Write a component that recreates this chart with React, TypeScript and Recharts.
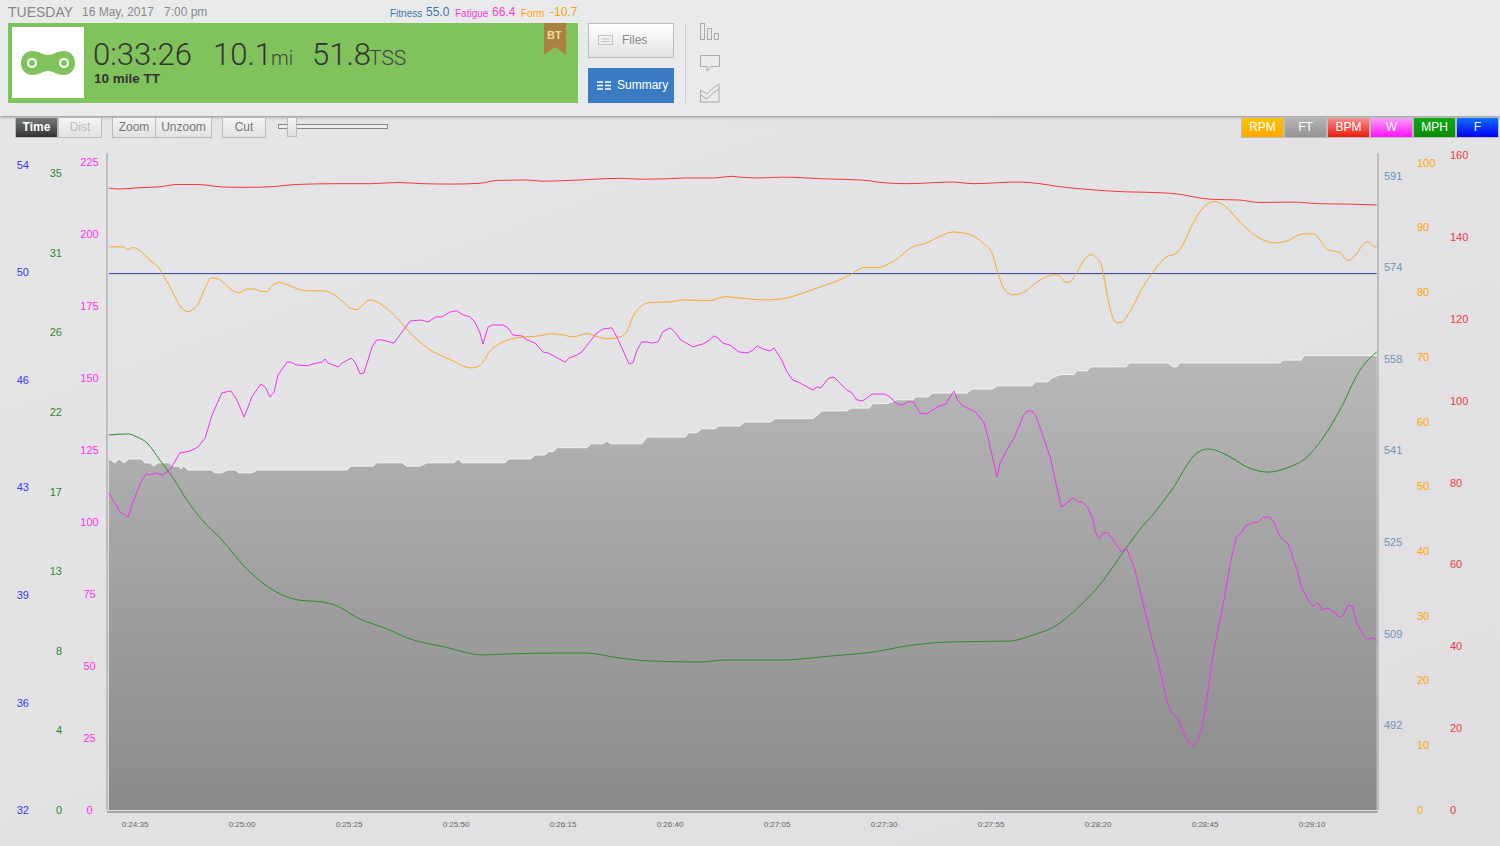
import React from "react";
import { Area, ComposedChart, Line, XAxis, YAxis } from "recharts";

// seconds into the ride
const xDomain = [1468.46, 1765.4];
const timeTicks = [1475, 1500, 1525, 1550, 1575, 1600, 1625, 1650, 1675, 1700, 1725, 1750];

const wattTimes = [
  1468.9, 1471.5, 1473.4, 1474.5, 1475.7, 1476.4, 1477.6, 1478.5, 1479.7, 1481.5, 1483.2, 1485.5, 1487.8, 1489.7, 1491.4, 1493, 1495.3, 1497.4, 1498.8, 1500.5,
  1502.3, 1504.4, 1505.6, 1506.5, 1507.5, 1508.4, 1510.5, 1511.4, 1512.8, 1515.4, 1516.6, 1518.7, 1519.4, 1520.1, 1522.5, 1523.4, 1525.5, 1526.4, 1527.6, 1528.5,
  1530.4, 1531.5, 1532.7, 1535.5, 1539.3, 1542, 1543.4, 1545.3, 1546.7, 1548.6, 1550.2, 1551.6, 1553.3, 1554.4, 1555.6, 1556.3, 1557.5, 1558.6, 1561, 1562.1,
  1563.3, 1565.4, 1566.6, 1568.5, 1570.3, 1571.5, 1575.5, 1576.4, 1578.3, 1579.4, 1580.6, 1582.9, 1584.3, 1586.4, 1587.6, 1590.4, 1591.3, 1592.3, 1593.4, 1594.6,
  1595.8, 1597.2, 1598.3, 1600, 1601.1, 1602.5, 1605.3, 1607.7, 1609.3, 1610.2, 1611.2, 1612.3, 1614, 1616.1, 1618.2, 1619.4, 1620.3, 1621.7, 1623.3, 1624.3,
  1626.1, 1627.3, 1628.7, 1630.3, 1633.4, 1634.3, 1635.2, 1637.1, 1638.3, 1641.3, 1642.5, 1643.6, 1645, 1647.2, 1650.2, 1651.4, 1653, 1654.4, 1655.6, 1656.8,
  1658.4, 1660, 1662.4, 1664.5, 1666.3, 1667.3, 1668.4, 1671.3, 1673.3, 1674.3, 1676.4, 1677.1, 1678.7, 1680.4, 1682.5, 1683.4, 1684.6, 1685.5, 1688.8, 1691.4,
  1694.2, 1695.4, 1696.3, 1697.5, 1698.7, 1699.4, 1700.3, 1701.2, 1702.4, 1705.4, 1706.6, 1708.5, 1709.6, 1712.2, 1714.1, 1716.2, 1717.3, 1718.5, 1720.4, 1721.5,
  1722.2, 1723.2, 1724.3, 1725.5, 1726.9, 1729.3, 1730.9, 1732.3, 1733.5, 1734.4, 1736, 1737.4, 1738.6, 1740.2, 1741.2, 1742.5, 1744.4, 1746.5, 1747.5, 1749.1,
  1750.2, 1751.4, 1752.3, 1753.7, 1755.4, 1756.3, 1757.2, 1758.4, 1759.3, 1760.7, 1762.4, 1763.1, 1764.2, 1765.1,
];
const wattValues = [
  110.1, 103.5, 101.7, 106.9, 111.1, 113.9, 116.7, 116.3, 117, 116.3, 118.1, 124, 124.6, 126, 129.2, 137.1, 144.8, 145.5, 142.4, 136.4,
  143.4, 147.9, 146.5, 143.4, 145.1, 151, 155.5, 155.5, 154.5, 154.2, 154.9, 155.5, 156.6, 155.2, 153.8, 155.2, 156.9, 155.5, 151.4, 151.7,
  160.8, 163.2, 163.2, 162.1, 169.8, 170.1, 169.4, 171.2, 171.2, 172.9, 173.3, 171.9, 171.2, 169.4, 165.6, 161.8, 167.7, 168.4, 168.4, 167.4,
  164.9, 164.6, 163.2, 162.1, 159, 158.7, 155.5, 156.9, 158, 159, 161.4, 165.6, 167, 167.4, 164.2, 154.9, 155.2, 159.7, 162.5, 162.5,
  162.1, 162.5, 166, 167.4, 166, 163.2, 160.8, 161.8, 163.2, 164.6, 163.9, 162.1, 161.4, 159, 158.7, 159.7, 161.1, 160.1, 159.4, 160.4,
  156.2, 152.1, 149.3, 148.3, 145.8, 146.9, 146.5, 150, 150.3, 145.8, 144.8, 142.4, 142, 144.4, 144.4, 143.4, 141, 140.6, 141.7, 141.7,
  137.8, 137.5, 139.9, 141, 145.5, 142, 140.3, 138.2, 134.7, 129.2, 115.6, 120.5, 125, 129.2, 136.8, 138.5, 138.5, 136.8, 122.6, 105.2,
  108.3, 106.9, 106.9, 105.2, 101.4, 96.5, 94.1, 96.2, 96.2, 89.6, 91, 84, 77.4, 61.5, 51, 37.2, 33.7, 31.9, 25.3, 22.9,
  22.2, 23.6, 28.8, 39.2, 54.5, 71.9, 85.8, 94.8, 96.2, 98.6, 99.6, 100, 101.7, 101.7, 99.6, 94.8, 92.4, 83.3, 77.4, 72.9,
  70.8, 71.9, 69.4, 70.1, 68.4, 67, 67.4, 71.2, 70.8, 64.2, 59.7, 59.4, 59.7, 58.7,
];

const rpmTimes = [
  1468.9, 1472.2, 1473.4, 1474.5, 1476.2, 1478.5, 1480.4, 1481.8, 1483.9, 1485.7, 1487.4, 1488.5, 1489.7, 1491.4, 1492.8, 1494.2, 1495.6, 1497.9, 1499.3, 1501.2,
  1502.6, 1504.7, 1505.8, 1507.2, 1508.9, 1510.7, 1513.5, 1515.4, 1519.4, 1521, 1523.6, 1525.7, 1526.9, 1528, 1529.9, 1531.5, 1533.4, 1536.4, 1539.7, 1541.6,
  1543.4, 1546.2, 1549.3, 1551.6, 1553.7, 1555.1, 1556.3, 1557.9, 1559.8, 1562.1, 1564.9, 1570.1, 1571.9, 1575, 1577.3, 1580.6, 1583.6, 1585.5, 1588.3, 1589.9,
  1591.3, 1593, 1595.3, 1600, 1603, 1609.3, 1612.8, 1616.3, 1622.2, 1627.3, 1629.9, 1635, 1638.1, 1641.3, 1645.5, 1648.3, 1652.5, 1656.7, 1659.5, 1663,
  1666.1, 1670, 1673.1, 1675.2, 1676.6, 1677.8, 1678.9, 1680.1, 1683.1, 1685.2, 1688, 1689.9, 1691.1, 1692.5, 1693.4, 1695, 1697.4, 1698.6, 1699.7, 1700.9,
  1701.6, 1703.2, 1704.4, 1705.3, 1707.4, 1710.5, 1713.3, 1716.1, 1718, 1719.8, 1722.2, 1724.5, 1727.3, 1729.2, 1733.8, 1737.8, 1741.3, 1744.1, 1747.9, 1750.6,
  1751.8, 1753.5, 1756.5, 1758.4, 1759.5, 1763, 1764.7, 1765.1,
];
const rpmValues = [
  87, 87, 86.6, 86.9, 86.4, 84.9, 83.9, 82.4, 79.9, 77.7, 77, 77.3, 78.1, 80.7, 82.2, 82.1, 81.5, 80.2, 79.9, 80.5,
  80.5, 80.1, 80.1, 81.1, 81.5, 81.1, 80.4, 80.2, 80.2, 79.8, 78.5, 77.4, 77.3, 77.9, 78.8, 78.5, 77.7, 75.9, 73.4, 72.3,
  71.3, 70.3, 69.4, 68.6, 68.3, 68.5, 69.2, 70.9, 71.9, 72.6, 73, 73.3, 73.6, 73.4, 73.1, 73.6, 73, 72.8, 73.1, 73.9,
  76.2, 77.7, 78.4, 78.5, 78.8, 78.7, 79.3, 79.1, 78.8, 79.1, 79.6, 80.8, 81.5, 82.4, 83.8, 83.8, 84.9, 87, 87.5, 88.6,
  89.3, 88.9, 87.6, 86.1, 83, 80.8, 79.9, 79.6, 80.2, 81.3, 82.4, 82.7, 82.5, 81.5, 81.6, 83, 85.5, 85.8, 85.3, 83.9,
  81.5, 76.5, 75.3, 75.3, 77, 80.8, 83.5, 85.5, 85.9, 87.3, 90.7, 93, 94, 93.5, 90.4, 88.3, 87.6, 87.9, 89, 89,
  88.1, 86.6, 86.1, 84.9, 85.3, 87.8, 87, 87,
];

const bpmTimes = [
  1468.9, 1471.5, 1475.7, 1480.4, 1484.8, 1489.7, 1495.3, 1500.7, 1507.7, 1512.4, 1522.4, 1530.4, 1536.4, 1542.3, 1549.3, 1555.6, 1559.6, 1566.6, 1570.3, 1576.6,
  1588.3, 1593, 1599.3, 1604, 1610, 1614.7, 1616.3, 1621, 1626.4, 1635.7, 1646, 1648.3, 1655.3, 1666.1, 1670.8, 1681, 1686.4, 1690.8, 1698.8, 1706.7,
  1711.4, 1718.4, 1726.1, 1733.1, 1737.8, 1745.5, 1751.8, 1758.8, 1765.1,
];
const bpmValues = [
  152, 151.8, 152.1, 152.3, 152.9, 152.9, 152.3, 152.2, 152.4, 152.9, 153.1, 153.1, 153.4, 153.1, 153, 153.2, 153.9, 154, 153.7, 153.9,
  154.4, 154.2, 154.3, 154.5, 154.5, 154.9, 154.7, 154.5, 154.7, 154.3, 153.9, 153.5, 153.1, 153.5, 153.1, 153.5, 153.1, 152.4, 151.6, 151.1,
  151, 150.6, 149.3, 149.1, 148.5, 148.6, 148.2, 148.1, 147.9,
];

const mphTimes = [
  1468.9, 1473.4, 1475.5, 1477.8, 1480.8, 1483.9, 1487.1, 1490.7, 1495.3, 1500.7, 1506.1, 1510, 1513.1, 1518.7, 1521.7, 1527.1, 1535, 1538.1, 1547.4, 1556.3,
  1561.4, 1574.3, 1580.1, 1588.3, 1595.3, 1607, 1612.8, 1625.7, 1637.4, 1649, 1653.7, 1665.4, 1679.4, 1684.1, 1691.1, 1693.4, 1701.1, 1705.1, 1709.3, 1713.3,
  1717.2, 1723.1, 1725.7, 1730.1, 1734.8, 1739.7, 1744.1, 1748.8, 1752.5, 1756.5, 1761.2, 1765.1,
];
const mphValues = [
  20.73, 20.79, 20.62, 20.29, 19.35, 18.35, 17.14, 16.03, 14.93, 13.43, 12.33, 11.83, 11.61, 11.5, 11.33, 10.61, 9.9, 9.56, 9.01, 8.57,
  8.62, 8.68, 8.68, 8.4, 8.24, 8.18, 8.29, 8.29, 8.51, 8.79, 9.01, 9.29, 9.34, 9.62, 10.34, 10.78, 12.66, 13.99, 15.37, 16.47,
  17.69, 19.74, 19.96, 19.62, 18.96, 18.68, 18.91, 19.51, 20.56, 22.11, 24.32, 25.32,
];

const ftTimes = [
  1468.9, 1470.3, 1471.3, 1472.4, 1473.6, 1476.4, 1477.3, 1478.5, 1479.4, 1480.4, 1482.9, 1483.9, 1485.3, 1485.7, 1486.4, 1487.4, 1492.8, 1493.7, 1495.3, 1496.5,
  1498.4, 1499.3, 1502.3, 1503.5, 1524.5, 1525.5, 1530.6, 1531.5, 1537.4, 1538.5, 1541.6, 1543.2, 1549.5, 1550.5, 1551.4, 1561.4, 1562.4, 1567.5, 1568.4, 1570.8,
  1571.5, 1572.7, 1573.6, 1580.6, 1581.5, 1584.3, 1585.3, 1586.2, 1593.4, 1594.6, 1603.5, 1604.4, 1606.3, 1607.4, 1610.5, 1611.4, 1616.3, 1617.5, 1623.6, 1624.5,
  1633.4, 1635.5, 1641.3, 1642.3, 1646.5, 1647.4, 1650.7, 1653, 1656.8, 1657.4, 1660.2, 1661.4, 1669.4, 1670.5, 1675.2, 1676.4, 1684.5, 1685.5, 1688.3, 1689.2,
  1691.1, 1694.4, 1695, 1697.4, 1698.3, 1706.6, 1707.2, 1716.3, 1717.5, 1718.4, 1719.1, 1742.5, 1743.2, 1747.5, 1748.1, 1765.1,
];
const ftValues = [
  539.7, 539, 539.7, 539, 539.7, 539.7, 539, 539, 538.4, 539, 539, 538.4, 538.4, 537.9, 538.4, 537.7, 537.7, 537.2, 537.2, 537.7,
  537.7, 537.2, 537.2, 537.7, 537.7, 538.4, 538.4, 539, 539, 538.4, 538.4, 539, 539, 539.7, 539, 539, 539.7, 539.7, 540.4, 540.4,
  541, 541, 541.7, 541.7, 542.4, 542.4, 542.9, 542.4, 542.4, 543.6, 543.6, 544.4, 544.4, 545.1, 545.1, 545.6, 545.6, 546.3, 546.3, 546.9,
  546.9, 548.3, 548.3, 548.8, 548.8, 549.6, 549.6, 550.3, 550.3, 550.8, 550.8, 551.5, 551.5, 552.2, 552.2, 552.8, 552.8, 553.5, 553.5, 554.2,
  554.8, 554.8, 555.5, 555.5, 556.2, 556.2, 556.9, 556.9, 556.2, 556.2, 556.9, 556.9, 557.4, 557.4, 558.2, 558.2,
];

const fTimes = [1468.9, 1765.1];
const fValues = [49.88, 49.88];

// axis ticks, and the rounded labels the app prints for them
const fTicks = [32, 35.58, 39.17, 42.75, 46.33, 49.92, 53.5];
const fLabels = ["32", "36", "39", "43", "46", "50", "54"];
const mphTicks = [0, 4.4, 8.8, 13.2, 17.6, 22, 26.4, 30.8, 35.2];
const mphLabels = ["0", "4", "8", "13", "17", "22", "26", "31", "35"];
const wattTicks = [0, 25, 50, 75, 100, 125, 150, 175, 200, 225];
const ftTicks = [492, 508.4, 524.8, 541.2, 557.6, 574, 590.4];
const ftLabels = ["492", "509", "525", "541", "558", "574", "591"];
const rpmTicks = [0, 10, 20, 30, 40, 50, 60, 70, 80, 90, 100];
const bpmTicks = [0, 20, 40, 60, 80, 100, 120, 140, 160];

const legendItems = [
  { label: "RPM", from: "#ffc400", to: "#ffa800" },
  { label: "FT", from: "#b5b5b5", to: "#949494" },
  { label: "BPM", from: "#f59090", to: "#ee1a0a" },
  { label: "W", from: "#f8a0f8", to: "#ff10ff" },
  { label: "MPH", from: "#10aa10", to: "#0a8a0a" },
  { label: "F", from: "#0a70ff", to: "#0000f0" },
];

const zip = (times: number[], values: number[]) => times.map((t, i) => ({ t, v: values[i] }));
const clock = (s: number) => {
  const m = Math.floor(s / 60);
  const r = s % 60;
  return `0:${m}:${r < 10 ? "0" : ""}${r}`;
};
const labelled = (ticks: number[], labels: string[]) => (v: number) => labels[ticks.indexOf(v)];

const box = (left: number, top: number, width: number, height: number): React.CSSProperties => ({
  position: "absolute",
  left,
  top,
  width,
  height,
  boxSizing: "border-box",
});

const txt = (left: number, top: number, size: number, color: string, extra: React.CSSProperties = {}): React.CSSProperties => ({
  position: "absolute",
  left,
  top,
  fontSize: size,
  lineHeight: `${size + 2}px`,
  color,
  whiteSpace: "nowrap",
  ...extra,
});

function ToolButton({ label, left, width, dark, faded }: { label: string; left: number; width: number; dark?: boolean; faded?: boolean }) {
  return (
    <div
      style={{
        ...box(left, 117, width, 21),
        border: "1px solid #bbb",
        background: dark ? "linear-gradient(#777,#333)" : "linear-gradient(#f4f4f4,#e2e2e2)",
        color: dark ? "#fff" : faded ? "#bbb" : "#777",
        fontSize: 12,
        lineHeight: "19px",
        textAlign: "center",
        fontWeight: dark ? 700 : 400,
      }}
    >
      {label}
    </div>
  );
}

function Header() {
  const big = { fontFamily: "Roboto", fontWeight: 300 };
  return (
    <>
      <div style={{ ...box(0, 0, 1500, 116), background: "#e9eaec", boxShadow: "0 1px 3px #888" }} />
      <div style={txt(8, 4, 14, "#888")}>TUESDAY</div>
      <div style={txt(82, 5, 12, "#888")}>16 May, 2017</div>
      <div style={txt(164, 5, 12, "#888")}>7:00 pm</div>
      <div style={txt(390, 8, 10, "#3a78a8")}>Fitness</div>
      <div style={txt(426, 5, 12, "#3a78a8")}>55.0</div>
      <div style={txt(455, 8, 10, "#f23fd0")}>Fatigue</div>
      <div style={txt(492, 5, 12, "#f23fd0")}>66.4</div>
      <div style={txt(521, 8, 10, "#ffa500")}>Form</div>
      <div style={txt(550, 5, 12, "#ffa500")}>-10.7</div>

      <div style={{ ...box(8, 23, 570, 80), background: "#80c25c" }} />
      <div style={{ ...box(12, 27, 72, 71), background: "#fff" }} />
      <svg style={{ position: "absolute", left: 20, top: 50 }} width="56" height="26">
        <path d="M12 1 C20 1 22 5 28 5 C34 5 36 1 44 1 C51 1 55 7 55 13 C55 19 51 25 44 25 C36 25 34 21 28 21 C22 21 20 25 12 25 C5 25 1 19 1 13 C1 7 5 1 12 1 Z" fill="#80c25c" />
        <circle cx="12" cy="13" r="5" fill="#fff" />
        <circle cx="12" cy="13" r="3" fill="#80c25c" />
        <circle cx="44" cy="13" r="5" fill="#fff" />
        <circle cx="44" cy="13" r="3" fill="#80c25c" />
      </svg>
      <div style={txt(93, 38, 31, "#333", big)}>0:33:26</div>
      <div style={txt(213, 38, 31, "#333", big)}>10.1</div>
      <div style={txt(271, 47, 20, "#444", big)}>mi</div>
      <div style={txt(312, 38, 31, "#333", big)}>51.8</div>
      <div style={txt(369, 47, 21, "#444", big)}>TSS</div>
      <div style={txt(94, 71, 13.5, "#333", { fontWeight: 700 })}>10 mile TT</div>

      <svg style={{ position: "absolute", left: 544, top: 23 }} width="22" height="33">
        <path d="M0 0 H22 V32 L11 24 L0 32 Z" fill="#a9803f" />
      </svg>
      <div style={txt(547, 29, 11, "#e8dc9c", { fontWeight: 700 })}>BT</div>

      <div style={{ ...box(588, 23, 86, 35), border: "1px solid #bbb", background: "linear-gradient(#fff,#e2e2e2)" }} />
      <svg style={{ position: "absolute", left: 598, top: 35 }} width="16" height="11">
        <rect x="0.5" y="0.5" width="14" height="9" fill="none" stroke="#c4c4c4" />
        <path d="M3 4 H12 M3 6.5 H12" stroke="#c4c4c4" />
      </svg>
      <div style={txt(622, 33, 12, "#888")}>Files</div>
      <div style={{ ...box(588, 68, 86, 35), background: "#3b7bc4" }} />
      <svg style={{ position: "absolute", left: 597, top: 81 }} width="16" height="9">
        <path d="M0 1 H6 M8 1 H14 M0 4.5 H6 M8 4.5 H14 M0 8 H6 M8 8 H14" stroke="#fff" strokeWidth="1.6" />
      </svg>
      <div style={txt(617, 78, 12, "#fff")}>Summary</div>
      <div style={{ ...box(685, 23, 1, 80), background: "#ccc" }} />
      <svg style={{ position: "absolute", left: 698, top: 22 }} width="24" height="84" fill="none" stroke="#aaa">
        <rect x="2.5" y="1.5" width="4" height="16" />
        <rect x="9.5" y="6.5" width="4" height="11" />
        <rect x="16.5" y="11.5" width="4" height="6" />
        <path d="M2.5 33.5 H21.5 V44.5 H13 L9 49 V44.5 H2.5 Z" />
        <path d="M2.5 68 L9 72 L15 66 L21 62 V80 H2.5 Z" />
        <path d="M2.5 73 L9 77 L15 71 L21 67" />
      </svg>

      <ToolButton label="Time" left={15} width={43} dark />
      <ToolButton label="Dist" left={58} width={44} faded />
      <ToolButton label="Zoom" left={112} width={44} />
      <ToolButton label="Unzoom" left={155} width={57} />
      <ToolButton label="Cut" left={222} width={44} />
      <div style={{ ...box(278, 124, 110, 5), border: "1px solid #888", background: "#eee" }} />
      <div style={{ ...box(287, 117, 10, 20), border: "1px solid #bbb", background: "linear-gradient(#f4f4f4,#ddd)" }} />

      {legendItems.map((item, i) => (
        <div
          key={item.label}
          style={{
            ...box(1241 + i * 43, 117, 43, 21),
            border: "1px solid #bbb",
            background: `linear-gradient(${item.from},${item.to})`,
            color: "#fff",
            fontSize: 12,
            lineHeight: "19px",
            textAlign: "center",
          }}
        >
          {item.label}
        </div>
      ))}
    </>
  );
}

// the watt labels are centred in their column, not right aligned
function WattTick({ x, y, payload }: any) {
  return (
    <text x={x - 9.5} y={y} dy="0.355em" textAnchor="middle" fill="#ff33ee" fontSize={11} fontFamily="Liberation Sans">
      {payload.value}
    </text>
  );
}

function RideChart() {
  const axisText = (fill: string) => ({ fill, fontSize: 11, fontFamily: "Liberation Sans" });
  return (
    <ComposedChart width={1500} height={846} margin={{ top: 153, right: 0, bottom: 0, left: 0 }} style={{ position: "absolute", left: 0, top: 0 }}>
      <defs>
        <linearGradient id="ftFill" x1="0" y1="0" x2="0" y2="1">
          <stop offset="0%" stopColor="#b8b8b8" />
          <stop offset="100%" stopColor="#8a8a8a" />
        </linearGradient>
      </defs>
      <XAxis
        xAxisId="t"
        dataKey="t"
        type="number"
        domain={xDomain}
        allowDataOverflow
        ticks={timeTicks}
        interval={0}
        tickFormatter={clock}
        height={36}
        axisLine={false}
        tickLine={false}
        tickSize={0}
        tickMargin={11}
        tick={{ fill: "#666", fontSize: 8, fontFamily: "Liberation Sans" }}
      />
      {/* axes on a side are stacked outward from the plot by id */}
      <YAxis yAxisId="a-w" orientation="left" width={38} domain={[0, 228.1]} allowDataOverflow ticks={wattTicks} interval={0} tickSize={0} tickMargin={8} tickLine={false} stroke="#999" tick={WattTick} />
      <YAxis yAxisId="b-mph" orientation="left" width={33} domain={[0, 36.32]} allowDataOverflow ticks={mphTicks} interval={0} tickSize={0} tickMargin={7} tickLine={false} axisLine={false} tickFormatter={labelled(mphTicks, mphLabels)} tick={axisText("#2d8a2d")} />
      <YAxis yAxisId="c-f" orientation="left" width={36} domain={[32, 53.9]} allowDataOverflow ticks={fTicks} interval={0} tickSize={0} tickMargin={7} tickLine={false} axisLine={false} tickFormatter={labelled(fTicks, fLabels)} tick={axisText("#3a3aee")} />
      <YAxis yAxisId="a-ft" orientation="right" width={33} domain={[476.8, 594.5]} allowDataOverflow ticks={ftTicks} interval={0} tickSize={0} tickMargin={6} tickLine={false} stroke="#999" tickFormatter={labelled(ftTicks, ftLabels)} tick={axisText("#6f93b5")} />
      <YAxis yAxisId="b-rpm" orientation="right" width={34} domain={[0, 101.5]} allowDataOverflow ticks={rpmTicks} interval={0} tickSize={0} tickMargin={6} tickLine={false} axisLine={false} tick={axisText("#ffa500")} />
      <YAxis yAxisId="c-bpm" orientation="right" width={55} domain={[0, 160.6]} allowDataOverflow ticks={bpmTicks} interval={0} tickSize={0} tickMargin={5} tickLine={false} axisLine={false} tick={axisText("#e84040")} />

      <Area xAxisId="t" yAxisId="a-ft" data={zip(ftTimes, ftValues)} dataKey="v" type="linear" stroke="#f4f4f4" strokeWidth={1} fill="url(#ftFill)" fillOpacity={1} dot={false} activeDot={false} isAnimationActive={false} />
      <Line xAxisId="t" yAxisId="c-f" data={zip(fTimes, fValues)} dataKey="v" type="linear" stroke="#3535c0" strokeWidth={1} dot={false} activeDot={false} isAnimationActive={false} />
      <Line xAxisId="t" yAxisId="c-bpm" data={zip(bpmTimes, bpmValues)} dataKey="v" type="monotone" stroke="#f23a3a" strokeWidth={1} dot={false} activeDot={false} isAnimationActive={false} />
      <Line xAxisId="t" yAxisId="b-rpm" data={zip(rpmTimes, rpmValues)} dataKey="v" type="monotone" stroke="#f8a92c" strokeWidth={1} dot={false} activeDot={false} isAnimationActive={false} />
      <Line xAxisId="t" yAxisId="b-mph" data={zip(mphTimes, mphValues)} dataKey="v" type="monotone" stroke="#2f8a2f" strokeWidth={1} dot={false} activeDot={false} isAnimationActive={false} />
      <Line xAxisId="t" yAxisId="a-w" data={zip(wattTimes, wattValues)} dataKey="v" type="linear" stroke="#ee33ee" strokeWidth={1} dot={false} activeDot={false} isAnimationActive={false} />
    </ComposedChart>
  );
}

export default function App() {
  return (
    <div
      style={{
        ...box(0, 0, 1500, 846),
        overflow: "hidden",
        background: "linear-gradient(160deg,#e6e6e8,#dfdddf)",
        fontFamily: "Liberation Sans, Arial, sans-serif",
      }}
    >
      <RideChart />
      <Header />
      {/* baseline under the plot, sits 1px clear of the fill */}
      <div style={{ ...box(107, 811, 1271, 2), background: "#a5a5a5" }} />
    </div>
  );
}
